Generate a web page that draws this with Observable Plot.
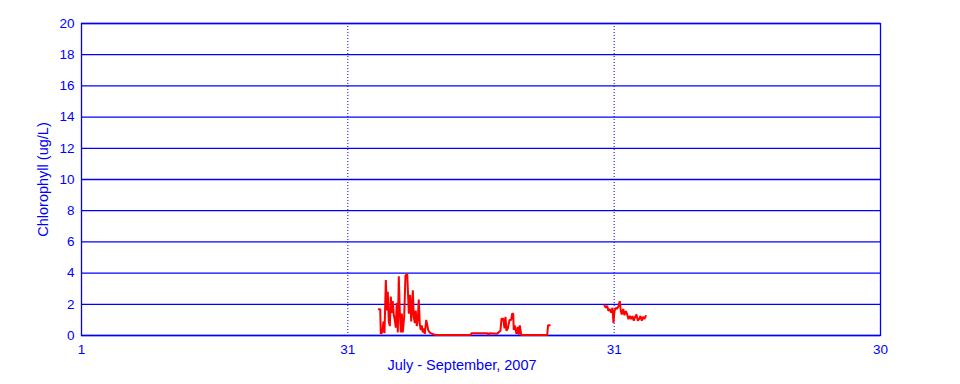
<!DOCTYPE html>
<html>
<head>
<meta charset="utf-8">
<script src="https://cdn.jsdelivr.net/npm/d3@7"></script>
<script src="https://cdn.jsdelivr.net/npm/@observablehq/plot@0.6"></script>
<style>
  html, body { margin: 0; padding: 0; background: #fff; }
  svg { display: block; }
</style>
</head>
<body>
<div id="chart"></div>
<script>
// Days since July 1, 2007 (x axis spans 90 days, ticks every 30)
const tickDays = [0, 30, 60, 90];
const tickLabels = ["1", "31", "31", "30"];
const yTicks = [0, 2, 4, 6, 8, 10, 12, 14, 16, 18, 20];

// Segment 1: early-mid August
const seg1Day = [33.49, 33.65, 33.71, 33.87, 34.02, 34.13, 34.28, 34.39, 34.50, 34.61,
  34.73, 34.84, 34.95, 35.06, 35.18, 35.29, 35.40, 35.51, 35.63, 35.74,
  35.85, 35.97, 36.08, 36.19, 36.35, 36.49, 36.69, 36.87, 37.02, 37.14,
  37.25, 37.32, 37.43, 37.54, 37.65, 37.77, 37.88, 37.99, 38.11, 38.22,
  38.33, 38.44, 38.56, 38.67, 38.83, 38.94, 39.05, 39.20, 39.34, 39.57,
  39.87, 43.82, 43.93, 45.73, 45.84, 45.96, 46.82, 47.19, 47.31, 47.50,
  47.65, 47.76, 47.87, 48.02, 48.21, 48.40, 48.51, 48.63, 48.69, 48.80,
  49.00, 49.14, 49.26, 49.37, 49.53, 52.46, 52.55, 52.75];
const seg1Val = [1.68, 1.68, 0.10, 0.20, 0.90, 0.15, 3.56, 1.60, 2.80, 0.90,
  0.60, 2.50, 1.45, 2.20, 1.30, 1.00, 0.50, 2.10, 0.20, 3.80,
  1.60, 0.20, 1.40, 0.20, 1.20, 3.85, 3.95, 1.40, 2.60, 0.90,
  1.90, 2.90, 1.20, 0.80, 1.60, 0.60, 1.00, 2.30, 0.70, 0.35,
  0.65, 0.20, 0.45, 0.10, 1.00, 0.70, 0.35, 0.20, 0.15, 0.10,
  0.04, 0.04, 0.15, 0.15, 0.04, 0.15, 0.12, 0.30, 1.08, 1.08,
  0.45, 1.20, 0.30, 0.45, 1.00, 1.00, 1.40, 1.40, 0.35, 0.65,
  0.10, 0.55, 0.05, 0.65, 0.04, 0.04, 0.65, 0.65];

// Segment 2: around Aug 31
const seg2Day = [58.91, 59.06, 59.21, 59.36, 59.51, 59.66, 59.81, 59.92, 60.04, 60.18,
  60.34, 60.49, 60.63, 60.75, 60.86, 61.02, 61.16, 61.31, 61.47, 61.61,
  61.76, 61.92, 62.06, 62.21, 62.37, 62.51, 62.66, 62.81, 62.96, 63.11,
  63.26, 63.40, 63.56];
const seg2Val = [1.93, 1.78, 1.90, 1.57, 1.70, 1.46, 1.78, 0.80, 1.57, 1.78,
  1.70, 1.90, 2.20, 1.57, 1.35, 1.70, 1.30, 1.57, 1.35, 1.05,
  1.25, 1.05, 1.25, 0.95, 1.20, 1.35, 0.95, 1.05, 1.25, 0.95,
  1.20, 1.05, 1.25];

const data = [
  ...seg1Day.map((d, i) => ({day: d, value: seg1Val[i], seg: 1})),
  ...seg2Day.map((d, i) => ({day: d, value: seg2Val[i], seg: 2}))
];

const blue = "#0000ff";
const font = "Liberation Sans, Arial, sans-serif";

const chart = Plot.plot({
  width: 960,
  height: 384,
  marginLeft: 81,
  marginRight: 80,
  marginTop: 23,
  marginBottom: 49,
  style: {fontFamily: font, fontSize: "13px", color: blue, background: "#fff"},
  x: {domain: [0, 90]},
  y: {domain: [0, 20]},
  marks: [
    Plot.gridY(yTicks, {stroke: blue, strokeOpacity: 1, strokeWidth: 1.3}),
    Plot.ruleX([30, 60], {stroke: blue, strokeDasharray: "1,2", strokeWidth: 1}),
    Plot.frame({stroke: blue, strokeWidth: 1.3}),
    Plot.axisY(yTicks, {tickSize: 0, tickPadding: 7, label: null, fill: blue, fontSize: 13.5}),
    Plot.axisX(tickDays, {tickSize: 0, tickPadding: 9, label: null, fill: blue, fontSize: 13.5,
      tickFormat: (d, i) => tickLabels[i]}),
    Plot.text(["Chlorophyll (ug/L)"], {frameAnchor: "left", rotate: -90, textAnchor: "middle",
      dx: -38, dy: 0, fill: blue, fontSize: 14.5}),
    Plot.text(["July - September, 2007"], {frameAnchor: "bottom", textAnchor: "middle",
      dx: -19, dy: 34, fill: blue, fontSize: 14.5}),
    Plot.line(data, {x: "day", y: "value", z: "seg", stroke: "#ff0000", strokeWidth: 2,
      strokeLinejoin: "miter", curve: "linear"})
  ]
});

document.getElementById("chart").appendChild(chart);
</script>
</body>
</html>
